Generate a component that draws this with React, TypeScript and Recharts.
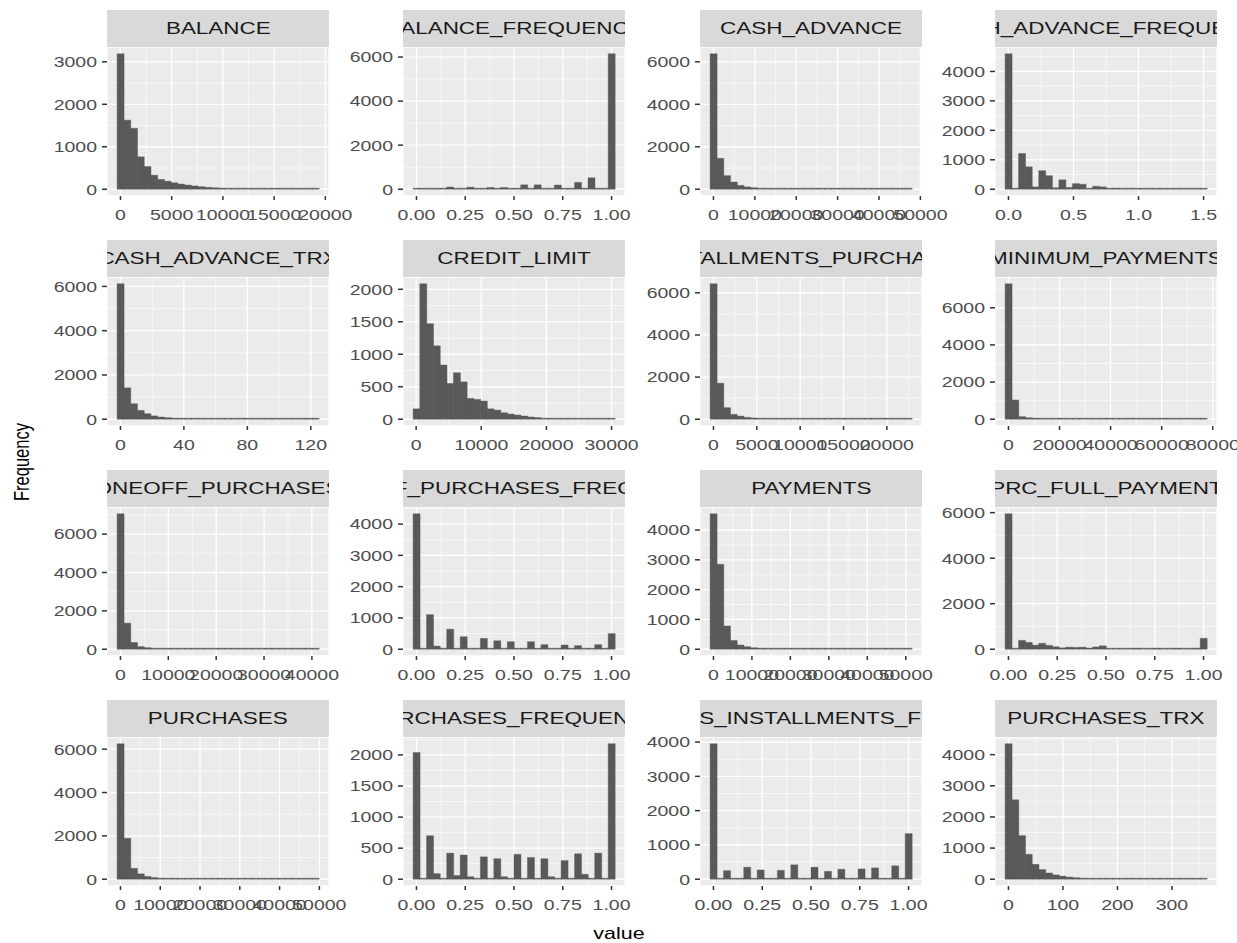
import { BarChart, Bar, XAxis, YAxis, CartesianGrid } from "recharts"

// histogram counts, 30 bins per variable (ggplot default binning)
const BALANCE = [3190, 1626, 1435, 763, 534, 330, 232, 190, 152, 122, 98, 78, 60, 46, 35, 27, 20, 15, 12, 9, 7, 5, 4, 3, 2, 2, 1, 1, 1, 1]
const BALANCE_FREQUENCY = [20, 0, 5, 35, 0, 100, 0, 5, 95, 0, 0, 80, 0, 80, 0, 5, 200, 0, 200, 0, 5, 190, 0, 5, 310, 0, 520, 0, 10, 6150]
const CASH_ADVANCE = [6380, 1455, 640, 340, 180, 110, 72, 45, 30, 20, 14, 10, 7, 5, 4, 3, 2, 2, 1, 1, 1, 0, 0, 1, 0, 0, 0, 0, 0, 1]
const CASH_ADVANCE_FREQUENCY = [4600, 0, 1215, 760, 80, 630, 460, 50, 320, 60, 190, 170, 30, 100, 80, 30, 40, 10, 30, 25, 5, 3, 2, 1, 1, 0, 0, 0, 0, 1]
const CASH_ADVANCE_TRX = [6120, 1415, 700, 395, 250, 150, 100, 70, 50, 30, 20, 14, 10, 6, 4, 3, 2, 2, 1, 1, 1, 0, 0, 0, 0, 0, 0, 0, 0, 1]
const CREDIT_LIMIT = [160, 2085, 1470, 1130, 835, 550, 715, 575, 320, 305, 280, 160, 140, 100, 80, 65, 50, 35, 25, 15, 8, 3, 2, 2, 1, 1, 0, 0, 1, 2]
const INSTALLMENTS_PURCHASES = [6430, 1710, 550, 230, 150, 90, 60, 40, 25, 15, 10, 8, 5, 4, 3, 2, 1, 1, 1, 0, 0, 0, 1, 0, 0, 0, 0, 0, 0, 1]
const MINIMUM_PAYMENTS = [7290, 1035, 140, 80, 60, 40, 25, 15, 10, 5, 4, 3, 2, 1, 1, 1, 0, 0, 0, 0, 0, 0, 1, 0, 0, 0, 0, 0, 0, 1]
const ONEOFF_PURCHASES = [7060, 1360, 355, 135, 80, 50, 30, 20, 12, 8, 5, 4, 3, 2, 1, 1, 1, 0, 0, 0, 0, 1, 0, 0, 0, 0, 0, 0, 0, 1]
const ONEOFF_PURCHASES_FREQUENCY = [4330, 0, 1105, 100, 0, 640, 30, 400, 0, 0, 345, 0, 270, 0, 240, 0, 0, 240, 0, 146, 0, 0, 135, 0, 115, 0, 0, 146, 0, 500]
const PAYMENTS = [4545, 2850, 780, 295, 140, 85, 50, 35, 25, 15, 10, 8, 6, 4, 3, 2, 2, 1, 1, 1, 0, 1, 0, 0, 0, 0, 0, 0, 0, 1]
const PRC_FULL_PAYMENT = [5950, 0, 390, 300, 180, 260, 170, 110, 60, 90, 80, 90, 50, 100, 150, 40, 40, 40, 30, 50, 40, 30, 50, 40, 40, 50, 30, 40, 50, 480]
const PURCHASES = [6250, 1890, 500, 250, 130, 80, 50, 35, 25, 15, 10, 8, 5, 4, 3, 2, 2, 1, 1, 1, 0, 0, 1, 0, 0, 0, 0, 0, 0, 1]
const PURCHASES_FREQUENCY = [2040, 0, 700, 90, 0, 420, 60, 390, 40, 0, 360, 0, 330, 40, 0, 400, 0, 350, 0, 330, 40, 0, 300, 0, 410, 80, 0, 420, 0, 2180]
const PURCHASES_INSTALLMENTS_FREQUENCY = [3950, 0, 250, 0, 0, 350, 0, 270, 0, 0, 260, 0, 420, 0, 0, 350, 0, 230, 0, 290, 0, 0, 300, 0, 330, 0, 0, 390, 0, 1330]
const PURCHASES_TRX = [4350, 2550, 1400, 800, 480, 310, 200, 140, 100, 70, 50, 35, 25, 20, 15, 10, 8, 6, 5, 4, 3, 3, 2, 2, 1, 1, 1, 1, 0, 1]

const variables = [
  "BALANCE", "BALANCE_FREQUENCY", "CASH_ADVANCE", "CASH_ADVANCE_FREQUENCY",
  "CASH_ADVANCE_TRX", "CREDIT_LIMIT", "INSTALLMENTS_PURCHASES", "MINIMUM_PAYMENTS",
  "ONEOFF_PURCHASES", "ONEOFF_PURCHASES_FREQUENCY", "PAYMENTS", "PRC_FULL_PAYMENT",
  "PURCHASES", "PURCHASES_FREQUENCY", "PURCHASES_INSTALLMENTS_FREQUENCY", "PURCHASES_TRX",
]

const counts = [
  BALANCE, BALANCE_FREQUENCY, CASH_ADVANCE, CASH_ADVANCE_FREQUENCY,
  CASH_ADVANCE_TRX, CREDIT_LIMIT, INSTALLMENTS_PURCHASES, MINIMUM_PAYMENTS,
  ONEOFF_PURCHASES, ONEOFF_PURCHASES_FREQUENCY, PAYMENTS, PRC_FULL_PAYMENT,
  PURCHASES, PURCHASES_FREQUENCY, PURCHASES_INSTALLMENTS_FREQUENCY, PURCHASES_TRX,
]

// min / max of each variable, first and last bin are centred on these
const valueRanges: [number, number][] = [
  [0, 19043], [0, 1], [0, 47137], [0, 1.5],
  [0, 123], [50, 30000], [0, 22500], [0.02, 76406],
  [0, 40761], [0, 1], [0, 50721], [0, 1],
  [0, 49040], [0, 1], [0, 1], [0, 358],
]

const xBreaks = [
  [0, 5000, 10000, 15000, 20000], [0, 0.25, 0.5, 0.75, 1], [0, 10000, 20000, 30000, 40000, 50000], [0, 0.5, 1, 1.5],
  [0, 40, 80, 120], [0, 10000, 20000, 30000], [0, 5000, 10000, 15000, 20000], [0, 20000, 40000, 60000, 80000],
  [0, 10000, 20000, 30000, 40000], [0, 0.25, 0.5, 0.75, 1], [0, 10000, 20000, 30000, 40000, 50000], [0, 0.25, 0.5, 0.75, 1],
  [0, 10000, 20000, 30000, 40000, 50000], [0, 0.25, 0.5, 0.75, 1], [0, 0.25, 0.5, 0.75, 1], [0, 100, 200, 300],
]

const yBreaks = [
  [0, 1000, 2000, 3000], [0, 2000, 4000, 6000], [0, 2000, 4000, 6000], [0, 1000, 2000, 3000, 4000],
  [0, 2000, 4000, 6000], [0, 500, 1000, 1500, 2000], [0, 2000, 4000, 6000], [0, 2000, 4000, 6000],
  [0, 2000, 4000, 6000], [0, 1000, 2000, 3000, 4000], [0, 1000, 2000, 3000, 4000], [0, 2000, 4000, 6000],
  [0, 2000, 4000, 6000], [0, 500, 1000, 1500, 2000], [0, 1000, 2000, 3000, 4000], [0, 1000, 2000, 3000, 4000],
]

const BINS = 30
const COL_X = [107, 403, 700, 995]
const ROW_Y = [10, 240, 470, 700]
const PANEL_W = 222
const PANEL_H = 149
const STRIP_H = 37
const AXIS_W = 60
const AXIS_H = 30
const PAD_R = 40 // room for the last x label to spill past the panel
const STRETCH = 1.3
const FONT = '"Liberation Sans", Arial, Helvetica, sans-serif'

// minor gridlines sit halfway between the breaks (and one step beyond each end)
function minorBreaks(breaks: number[], domain: number[]) {
  const step = breaks[1] - breaks[0]
  const out: number[] = []
  for (let i = -1; i < breaks.length; i++) {
    const v = breaks[0] + (i + 0.5) * step
    if (v > domain[0] && v < domain[1]) out.push(v)
  }
  return out
}

function decimalsOf(breaks: number[]) {
  let d = 0
  for (const b of breaks) {
    const s = String(b)
    if (s.includes(".")) d = Math.max(d, s.split(".")[1].length)
  }
  return d
}

function Facet({ idx }: { idx: number }) {
  const col = idx % 4
  const row = Math.floor(idx / 4)
  const left = COL_X[col]
  const top = ROW_Y[row]

  const [lo, hi] = valueRanges[idx]
  const bw = (hi - lo) / (BINS - 1)
  const data = counts[idx].map((n, i) => ({ x: lo + i * bw, n }))

  const x0 = lo - bw / 2
  const x1 = hi + bw / 2
  const xPad = (x1 - x0) * 0.05
  const xDomain = [x0 - xPad, x1 + xPad]
  const yMax = Math.max(...counts[idx])
  const yDomain = [-0.05 * yMax, 1.05 * yMax]

  const xt = xBreaks[idx]
  const yt = yBreaks[idx]
  const dec = decimalsOf(xt)

  const xTick = (p: any) => (
    <text
      x={0}
      y={0}
      dy="0.71em"
      textAnchor="middle"
      transform={`translate(${p.x},${p.y}) scale(${STRETCH},1)`}
      fontSize={15}
      fontFamily={FONT}
      fill="#4D4D4D"
    >
      {Number(p.payload.value).toFixed(dec)}
    </text>
  )

  const yTick = (p: any) => (
    <text
      x={0}
      y={0}
      dy="0.355em"
      textAnchor="end"
      transform={`translate(${p.x},${p.y}) scale(${STRETCH},1)`}
      fontSize={15}
      fontFamily={FONT}
      fill="#4D4D4D"
    >
      {p.payload.value}
    </text>
  )

  return (
    <>
      <div
        style={{
          position: "absolute",
          left,
          top,
          width: PANEL_W,
          height: STRIP_H,
          background: "#D9D9D9",
          overflow: "hidden",
          display: "flex",
          justifyContent: "center",
          alignItems: "center",
        }}
      >
        <span
          style={{
            display: "inline-block",
            flexShrink: 0,
            whiteSpace: "nowrap",
            transform: `scaleX(${STRETCH})`,
            fontFamily: FONT,
            fontSize: 17.3,
            color: "#1A1A1A",
          }}
        >
          {variables[idx]}
        </span>
      </div>
      <div style={{ position: "absolute", left: left - AXIS_W, top: top + STRIP_H }}>
        <BarChart
          width={AXIS_W + PANEL_W + PAD_R}
          height={PANEL_H + AXIS_H}
          data={data}
          margin={{ top: 0, right: PAD_R, bottom: 0, left: 0 }}
          barCategoryGap={0}
          barGap={0}
        >
          <CartesianGrid
            fill="#EBEBEB"
            stroke="#FFFFFF"
            strokeWidth={0.6}
            horizontalValues={minorBreaks(yt, yDomain)}
            verticalValues={minorBreaks(xt, xDomain)}
          />
          <CartesianGrid stroke="#FFFFFF" strokeWidth={1.3} />
          <XAxis
            type="number"
            dataKey="x"
            domain={xDomain}
            ticks={xt}
            interval={0}
            allowDataOverflow
            height={AXIS_H}
            axisLine={false}
            tickSize={4}
            tickMargin={9}
            tickLine={{ stroke: "#333333", strokeWidth: 1.5 }}
            tick={xTick}
          />
          <YAxis
            type="number"
            domain={yDomain}
            ticks={yt}
            interval={0}
            allowDataOverflow
            width={AXIS_W}
            axisLine={false}
            tickSize={5}
            tickMargin={5}
            tickLine={{ stroke: "#333333", strokeWidth: 1.5 }}
            tick={yTick}
          />
          <Bar
            dataKey="n"
            fill="#595959"
            stroke="#595959"
            strokeWidth={0.4}
            minPointSize={1}
            isAnimationActive={false}
          />
        </BarChart>
      </div>
    </>
  )
}

export default function App() {
  return (
    <div
      style={{
        position: "absolute",
        left: 0,
        top: 0,
        width: 1237,
        height: 943,
        background: "#FFFFFF",
        overflow: "hidden",
      }}
    >
      {variables.map((_, i) => (
        <Facet key={i} idx={i} />
      ))}
      <div
        style={{
          position: "absolute",
          left: 22,
          top: 462,
          transform: "translate(-50%, -50%) rotate(-90deg) scaleY(1.3)",
          fontFamily: FONT,
          fontSize: 16.5,
          color: "#000000",
          whiteSpace: "nowrap",
        }}
      >
        Frequency
      </div>
      <div
        style={{
          position: "absolute",
          left: 619,
          top: 933,
          transform: "translate(-50%, -50%) scaleX(1.3)",
          fontFamily: FONT,
          fontSize: 16.5,
          color: "#000000",
          whiteSpace: "nowrap",
        }}
      >
        value
      </div>
    </div>
  )
}
